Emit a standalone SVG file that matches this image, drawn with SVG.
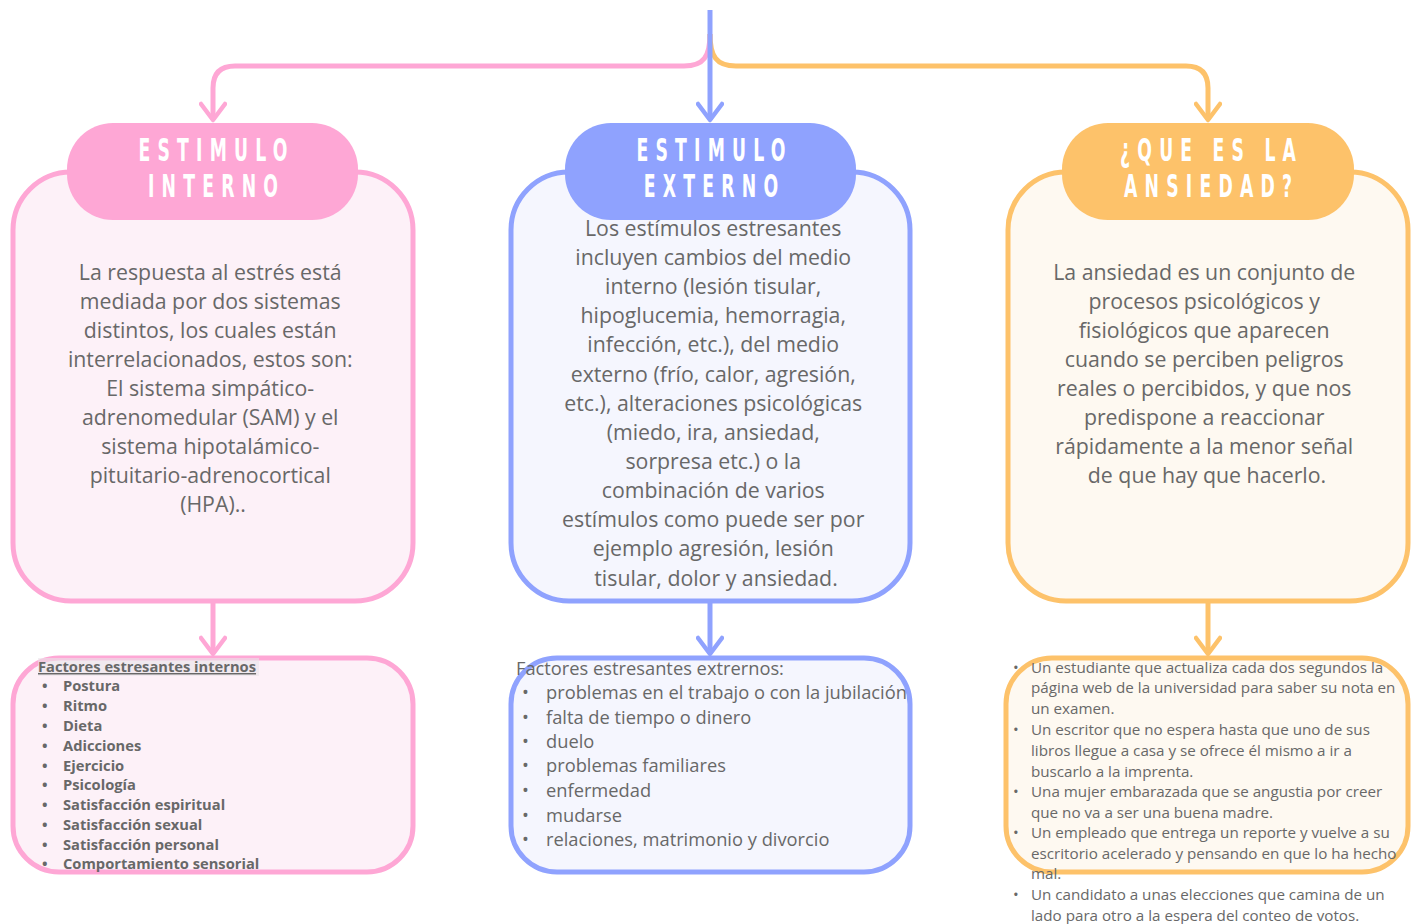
<svg xmlns="http://www.w3.org/2000/svg" width="1414" height="924" viewBox="0 0 1414 924">
<defs>
<style>
.hd{font-family:"Liberation Sans Narrow","DejaVu Sans Condensed","Liberation Sans",sans-serif;font-weight:bold;font-size:32px;fill:#ffffff;letter-spacing:12px;text-anchor:middle}
.body{font-family:"Open Sans","Liberation Sans",sans-serif;font-size:21.3px;fill:#686868;text-anchor:middle}
.li{font-family:"Open Sans","Liberation Sans",sans-serif;fill:#686868}
.conn{fill:none;stroke-width:5;stroke-linecap:butt;stroke-linejoin:round}
</style>
<marker id="mp" markerUnits="userSpaceOnUse" viewBox="0 0 24 28" markerWidth="24" markerHeight="28" refX="20" refY="14" orient="auto"><path d="M4,2 L20,14 L4,26" fill="none" stroke="#fea7d5" stroke-width="4.5" stroke-linecap="round" stroke-linejoin="round"/></marker>
<marker id="mb" markerUnits="userSpaceOnUse" viewBox="0 0 24 28" markerWidth="24" markerHeight="28" refX="20" refY="14" orient="auto"><path d="M4,2 L20,14 L4,26" fill="none" stroke="#8fa2fe" stroke-width="4.5" stroke-linecap="round" stroke-linejoin="round"/></marker>
<marker id="mo" markerUnits="userSpaceOnUse" viewBox="0 0 24 28" markerWidth="24" markerHeight="28" refX="20" refY="14" orient="auto"><path d="M4,2 L20,14 L4,26" fill="none" stroke="#fdc26a" stroke-width="4.5" stroke-linecap="round" stroke-linejoin="round"/></marker>
</defs>
<rect width="1414" height="924" fill="#ffffff"/>

<g id="connectors">
<path class="conn" stroke="#fea7d5" d="M710,34 C710,56 704,66 684,66 L235,66 Q213,66 213,88 L213,120" marker-end="url(#mp)"/>
<path class="conn" stroke="#fdc26a" d="M710,34 C710,56 716,66 736,66 L1186,66 Q1208,66 1208,88 L1208,120" marker-end="url(#mo)"/>
<path class="conn" stroke="#8fa2fe" d="M710,10 L710,120" marker-end="url(#mb)"/>
<path class="conn" stroke="#fea7d5" d="M213,603 L213,654" marker-end="url(#mp)"/>
<path class="conn" stroke="#8fa2fe" d="M710,603 L710,654" marker-end="url(#mb)"/>
<path class="conn" stroke="#fdc26a" d="M1208,603 L1208,654" marker-end="url(#mo)"/>
</g>

<g id="box-interno">
<rect x="13" y="172" width="400" height="429" rx="58" fill="#fdf1f8" stroke="#fea7d5" stroke-width="5"/>
<rect x="67" y="123" width="291" height="97" rx="46" fill="#fea7d5"/>
<text class="hd" transform="translate(216.6,161) scale(0.6,1)">ESTIMULO</text>
<text class="hd" transform="translate(216.6,197) scale(0.6,1)">INTERNO</text>
<text class="body">
<tspan x="213" y="280">La respuesta al estrés está</tspan>
<tspan x="213" y="309">mediada por dos sistemas</tspan>
<tspan x="213" y="338">distintos, los cuales están</tspan>
<tspan x="213" y="367">interrelacionados, estos son:</tspan>
<tspan x="213" y="396">El sistema simpático-</tspan>
<tspan x="213" y="425">adrenomedular (SAM) y el</tspan>
<tspan x="213" y="454">sistema hipotalámico-</tspan>
<tspan x="213" y="483">pituitario-adrenocortical</tspan>
<tspan x="213" y="512">(HPA)..</tspan>
</text>
</g>

<g id="box-externo">
<rect x="511" y="172" width="399" height="429" rx="58" fill="#f5f6fe" stroke="#8fa2fe" stroke-width="5"/>
<rect x="565" y="123" width="291" height="97" rx="46" fill="#8fa2fe"/>
<text class="hd" transform="translate(714.6,161) scale(0.6,1)">ESTIMULO</text>
<text class="hd" transform="translate(714.6,197) scale(0.6,1)">EXTERNO</text>
<text class="body">
<tspan x="716" y="236">Los estímulos estresantes</tspan>
<tspan x="716" y="265">incluyen cambios del medio</tspan>
<tspan x="716" y="294">interno (lesión tisular,</tspan>
<tspan x="716" y="323">hipoglucemia, hemorragia,</tspan>
<tspan x="716" y="352">infección, etc.), del medio</tspan>
<tspan x="716" y="382">externo (frío, calor, agresión,</tspan>
<tspan x="716" y="411">etc.), alteraciones psicológicas</tspan>
<tspan x="716" y="440">(miedo, ira, ansiedad,</tspan>
<tspan x="716" y="469">sorpresa etc.) o la</tspan>
<tspan x="716" y="498">combinación de varios</tspan>
<tspan x="716" y="527">estímulos como puede ser por</tspan>
<tspan x="716" y="556">ejemplo agresión, lesión</tspan>
<tspan x="716" y="586">tisular, dolor y ansiedad.</tspan>
</text>
</g>

<g id="box-ansiedad">
<rect x="1008" y="172" width="400" height="429" rx="58" fill="#fef9f1" stroke="#fdc26a" stroke-width="5"/>
<rect x="1062" y="123" width="292" height="97" rx="46" fill="#fdc26a"/>
<text class="hd" transform="translate(1211.6,161) scale(0.6,1)">¿QUE ES LA</text>
<text class="hd" transform="translate(1211.6,197) scale(0.6,1)">ANSIEDAD?</text>
<text class="body">
<tspan x="1207" y="280">La ansiedad es un conjunto de</tspan>
<tspan x="1207" y="309">procesos psicológicos y</tspan>
<tspan x="1207" y="338">fisiológicos que aparecen</tspan>
<tspan x="1207" y="367">cuando se perciben peligros</tspan>
<tspan x="1207" y="396">reales o percibidos, y que nos</tspan>
<tspan x="1207" y="425">predispone a reaccionar</tspan>
<tspan x="1207" y="454">rápidamente a la menor señal</tspan>
<tspan x="1207" y="483">de que hay que hacerlo.</tspan>
</text>
</g>

<g id="list-interno">
<rect x="13" y="658" width="400" height="214" rx="46" fill="#fdf1f8" stroke="#fea7d5" stroke-width="5"/>
<rect x="38" y="658" width="221" height="18" fill="#e9e4ea" opacity="0.6"/>
<text class="li" x="38" y="672" font-size="14.7" font-weight="bold" text-decoration="underline">Factores estresantes internos</text>
<g class="li" font-size="14.7" font-weight="bold">
<text x="42" y="691">•</text><text x="63" y="691">Postura</text>
<text x="42" y="711">•</text><text x="63" y="711">Ritmo</text>
<text x="42" y="731">•</text><text x="63" y="731">Dieta</text>
<text x="42" y="751">•</text><text x="63" y="751">Adicciones</text>
<text x="42" y="771">•</text><text x="63" y="771">Ejercicio</text>
<text x="42" y="790">•</text><text x="63" y="790">Psicología</text>
<text x="42" y="810">•</text><text x="63" y="810">Satisfacción espiritual</text>
<text x="42" y="830">•</text><text x="63" y="830">Satisfacción sexual</text>
<text x="42" y="850">•</text><text x="63" y="850">Satisfacción personal</text>
<text x="42" y="869">•</text><text x="63" y="869">Comportamiento sensorial</text>
</g>
</g>

<g id="list-externo">
<rect x="511" y="658" width="399" height="214" rx="46" fill="#f5f6fe" stroke="#8fa2fe" stroke-width="5"/>
<text class="li" x="516" y="675" font-size="18.3">Factores estresantes extrernos:</text>
<g class="li" font-size="18.3">
<text x="522" y="699">•</text><text x="546" y="699">problemas en el trabajo o con la jubilación</text>
<text x="522" y="724">•</text><text x="546" y="724">falta de tiempo o dinero</text>
<text x="522" y="748">•</text><text x="546" y="748">duelo</text>
<text x="522" y="772">•</text><text x="546" y="772">problemas familiares</text>
<text x="522" y="797">•</text><text x="546" y="797">enfermedad</text>
<text x="522" y="822">•</text><text x="546" y="822">mudarse</text>
<text x="522" y="846">•</text><text x="546" y="846">relaciones, matrimonio y divorcio</text>
</g>
</g>

<g id="list-ansiedad">
<rect x="1006" y="658" width="402" height="214" rx="46" fill="#fef9f1" stroke="#fdc26a" stroke-width="5"/>
<g class="li" font-size="15.2">
<text x="1013" y="673">•</text><text x="1031" y="673">Un estudiante que actualiza cada dos segundos la</text>
<text x="1031" y="693">página web de la universidad para saber su nota en</text>
<text x="1031" y="714">un examen.</text>
<text x="1013" y="735">•</text><text x="1031" y="735">Un escritor que no espera hasta que uno de sus</text>
<text x="1031" y="756">libros llegue a casa y se ofrece él mismo a ir a</text>
<text x="1031" y="777">buscarlo a la imprenta.</text>
<text x="1013" y="797">•</text><text x="1031" y="797">Una mujer embarazada que se angustia por creer</text>
<text x="1031" y="818">que no va a ser una buena madre.</text>
<text x="1013" y="838">•</text><text x="1031" y="838">Un empleado que entrega un reporte y vuelve a su</text>
<text x="1031" y="859">escritorio acelerado y pensando en que lo ha hecho</text>
<text x="1031" y="879">mal.</text>
<text x="1013" y="900">•</text><text x="1031" y="900">Un candidato a unas elecciones que camina de un</text>
<text x="1031" y="921">lado para otro a la espera del conteo de votos.</text>
</g>
</g>
</svg>
